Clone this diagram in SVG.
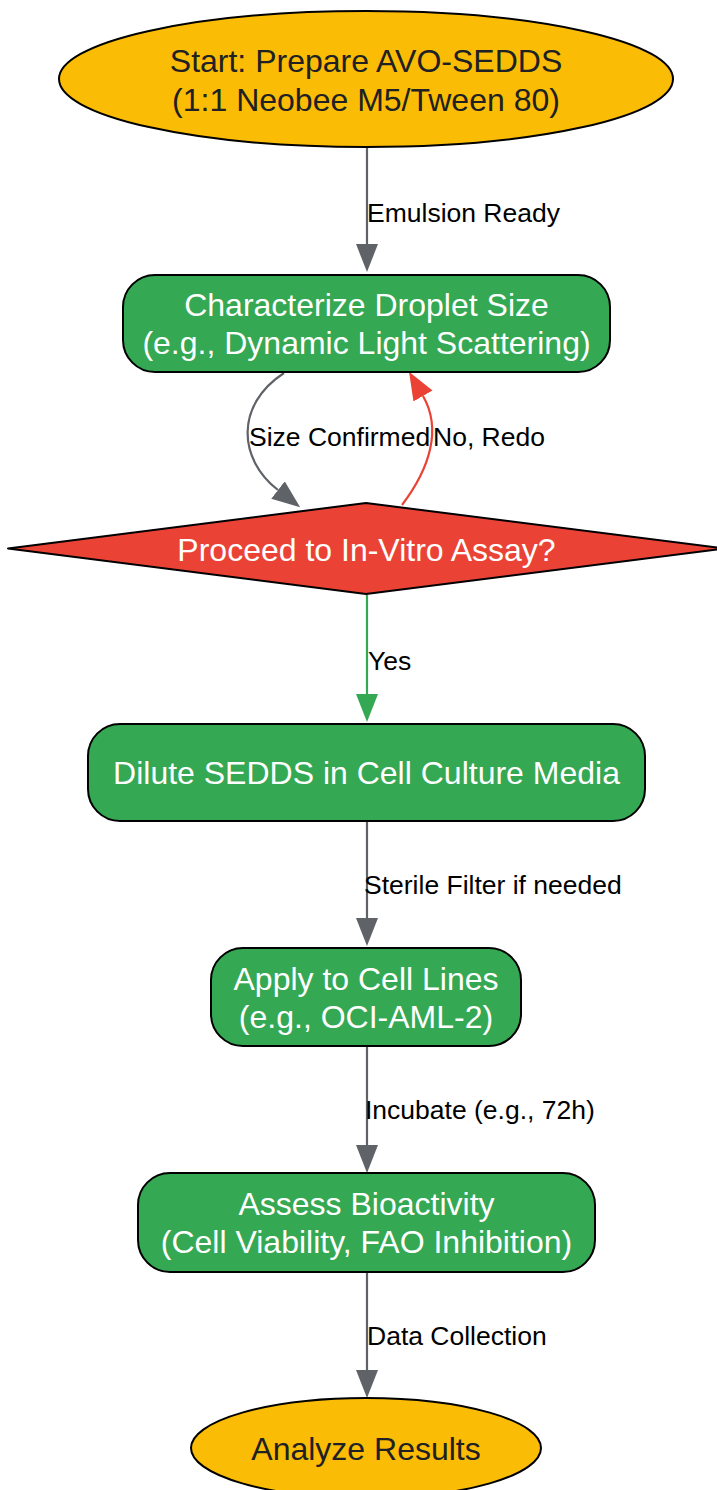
<svg xmlns="http://www.w3.org/2000/svg" width="717" height="1490" viewBox="0 0 717 1490">
<style>
.n{stroke:#000;stroke-width:2}
.y{fill:#FBBC05}
.g{fill:#34A853}
.r{fill:#EA4335}
.t{font-family:"Liberation Sans",Arial,sans-serif;font-size:32px;text-anchor:middle;dominant-baseline:central}
.dk{fill:#202124}
.wh{fill:#fff}
.l{font-family:"Liberation Sans",Arial,sans-serif;font-size:26.5px;fill:#000;dominant-baseline:central}
.e{fill:none;stroke-width:2.2}
.eg{stroke:#5F6368}
.er{stroke:#EA4335}
.eG{stroke:#34A853}
</style>
<defs>
<marker id="ag" viewBox="0 0 28 22" markerWidth="28" markerHeight="22" refX="0" refY="11" orient="auto" markerUnits="userSpaceOnUse"><path d="M0,0L28,11L0,22z" fill="#5F6368"/></marker>
<marker id="ar" viewBox="0 0 28 22" markerWidth="28" markerHeight="22" refX="0" refY="11" orient="auto" markerUnits="userSpaceOnUse"><path d="M0,0L28,11L0,22z" fill="#EA4335"/></marker>
<marker id="aG" viewBox="0 0 28 22" markerWidth="28" markerHeight="22" refX="0" refY="11" orient="auto" markerUnits="userSpaceOnUse"><path d="M0,0L28,11L0,22z" fill="#34A853"/></marker>
</defs>
<rect width="717" height="1490" fill="#fff"/>
<g id="connectors">
<path class="e eg" d="M367,148V244" marker-end="url(#ag)"/>
<text class="l" x="367" y="213">Emulsion Ready</text>
<path class="e eg" d="M284,373C235,405 238,459 278,490" marker-end="url(#ag)"/>
<text class="l" x="249" y="437">Size Confirmed</text>
<path class="e er" d="M402,505C430,468 442,429 423,396" marker-end="url(#ar)"/>
<text class="l" x="433" y="437">No, Redo</text>
<path class="e eG" d="M367,595V694" marker-end="url(#aG)"/>
<text class="l" x="368" y="661">Yes</text>
<path class="e eg" d="M367,821V918" marker-end="url(#ag)"/>
<text class="l" x="364" y="885">Sterile Filter if needed</text>
<path class="e eg" d="M367,1046V1145" marker-end="url(#ag)"/>
<text class="l" x="365" y="1110">Incubate (e.g., 72h)</text>
<path class="e eg" d="M367,1272V1370" marker-end="url(#ag)"/>
<text class="l" x="367" y="1336">Data Collection</text>
</g>
<g id="start">
<ellipse class="n y" cx="366" cy="79" rx="307" ry="68"/>
<text class="t dk" x="366" y="61">Start: Prepare AVO-SEDDS</text>
<text class="t dk" x="366" y="100">(1:1 Neobee M5/Tween 80)</text>
</g>
<g id="characterize">
<rect class="n g" x="123" y="275" width="487" height="97" rx="32"/>
<text class="t wh" x="366.5" y="305">Characterize Droplet Size</text>
<text class="t wh" x="366.5" y="343">(e.g., Dynamic Light Scattering)</text>
</g>
<g id="decision">
<polygon class="n r" stroke-linejoin="round" points="366,503 725,548.5 366,594 8,548.5"/>
<text class="t wh" x="366.5" y="550">Proceed to In-Vitro Assay?</text>
</g>
<g id="dilute">
<rect class="n g" x="88" y="724" width="557" height="97" rx="32"/>
<text class="t wh" x="366.5" y="773">Dilute SEDDS in Cell Culture Media</text>
</g>
<g id="apply">
<rect class="n g" x="211" y="948" width="310" height="98" rx="32"/>
<text class="t wh" x="366" y="979">Apply to Cell Lines</text>
<text class="t wh" x="366" y="1017">(e.g., OCI-AML-2)</text>
</g>
<g id="assess">
<rect class="n g" x="138" y="1173" width="457" height="99" rx="32"/>
<text class="t wh" x="366.5" y="1204">Assess Bioactivity</text>
<text class="t wh" x="366.5" y="1242">(Cell Viability, FAO Inhibition)</text>
</g>
<g id="analyze">
<ellipse class="n y" cx="366" cy="1448" rx="175" ry="50"/>
<text class="t dk" x="366" y="1449">Analyze Results</text>
</g>
</svg>
